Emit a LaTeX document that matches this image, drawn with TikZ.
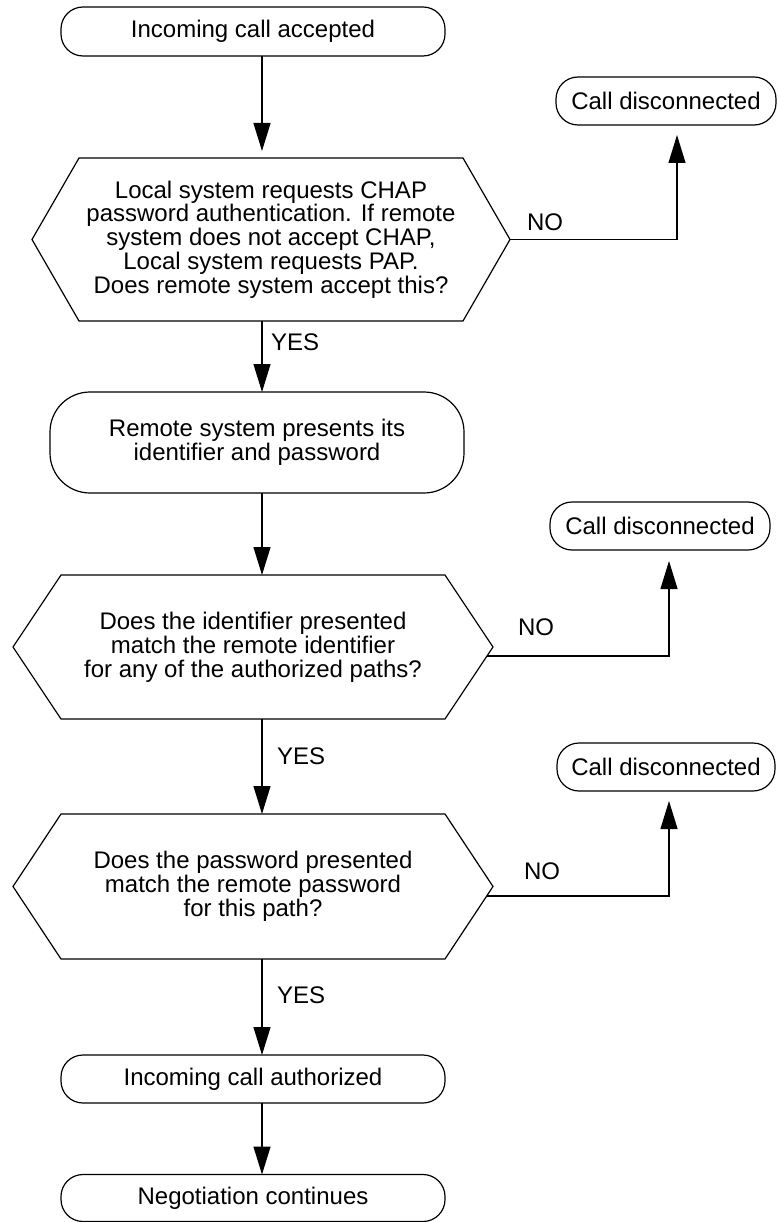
\documentclass[tikz,border=0pt]{standalone}
\usepackage{fontspec}
\setmainfont{Liberation Sans}
\usetikzlibrary{arrows.meta}
\begin{document}
\begin{tikzpicture}[x=1pt,y=-1pt,
  every node/.style={font=\fontsize{24}{23.8}\selectfont, inner sep=0pt, outer sep=0pt},
  term/.style={draw, line width=1.2pt, rounded corners=22pt, align=center},
  hexa/.style={align=center},
  lbl/.style={},
  arr/.style={line width=1.2pt, -{Triangle[length=28pt,width=17pt]}}
]
\useasboundingbox (0,0) rectangle (777,1222);
% terminals
\node[term, minimum width=384pt, minimum height=49pt] (n1) at (253,31.5) {Incoming call accepted};
\node[term, minimum width=220pt, minimum height=48pt] (cd1) at (666,101) {Call disconnected};
\node[term, rounded corners=40pt, minimum width=414pt, minimum height=101pt] (rem) at (257,442.5) {Remote system presents its\\identifier and password};
\node[term, minimum width=220pt, minimum height=48pt] (cd2) at (660,526) {Call disconnected};
\node[term, minimum width=218pt, minimum height=48pt] (cd3) at (666,767) {Call disconnected};
\node[term, minimum width=384pt, minimum height=48pt] (auth) at (253,1079) {Incoming call authorized};
\node[term, minimum width=384pt, minimum height=47pt] (neg) at (253,1198) {Negotiation continues};
% decisions
\node[hexa, minimum width=478pt, minimum height=163pt] (h1) at (271,239.5) {Local system requests CHAP\\password authentication. If remote\\system does not accept CHAP,\\Local system requests PAP.\\Does remote system accept this?};
\node[hexa, minimum width=480pt, minimum height=144pt] (h2) at (253,647) {Does the identifier presented\\match the remote identifier\\for any of the authorized paths?};
\node[hexa, minimum width=480pt, minimum height=145pt] (h3) at (253,886.5) {Does the password presented\\match the remote password\\for this path?};
\foreach \h/\c in {h1/47pt, h2/48pt, h3/48pt}{
  \draw[line width=1.2pt, line join=miter] (\h.west) -- ([xshift=\c]\h.north west) -- ([xshift=-\c]\h.north east) -- (\h.east) -- ([xshift=-\c]\h.south east) -- ([xshift=\c]\h.south west) -- cycle;
}
% main column
\coordinate (col) at (262,0);
\draw[arr, shorten >=7pt] (n1.south -| col) -- (h1.north -| col);
\draw[arr] (h1.south -| col) -- (rem.north -| col);
\draw[arr] (rem.south -| col) -- (h2.north -| col);
\draw[arr] (h2.south -| col) -- (h3.north -| col);
\draw[arr] (h3.south -| col) -- (auth.north -| col);
\draw[arr] (auth.south -| col) -- (neg.north -| col);
% NO branches
\draw[arr, shorten >=10pt] (h1.east) -| ([xshift=11pt]cd1.south);
\draw[arr, shorten >=11pt] ([xshift=-6pt,yshift=-9pt]h2.east) -| ([xshift=9pt]cd2.south);
\draw[arr, shorten >=10pt] ([xshift=-6pt,yshift=-9.5pt]h3.east) -| ([xshift=3pt]cd3.south);
% labels
\node[lbl, anchor=west] (y1) at (271,342) {YES};
\node[lbl, anchor=west] (y2) at (277,756) {YES};
\node[lbl, anchor=west] (y3) at (277,995) {YES};
\node[lbl] (no1) at (545,222) {NO};
\node[lbl] (no2) at (536,627) {NO};
\node[lbl] (no3) at (542,871) {NO};
\end{tikzpicture}
\end{document}
